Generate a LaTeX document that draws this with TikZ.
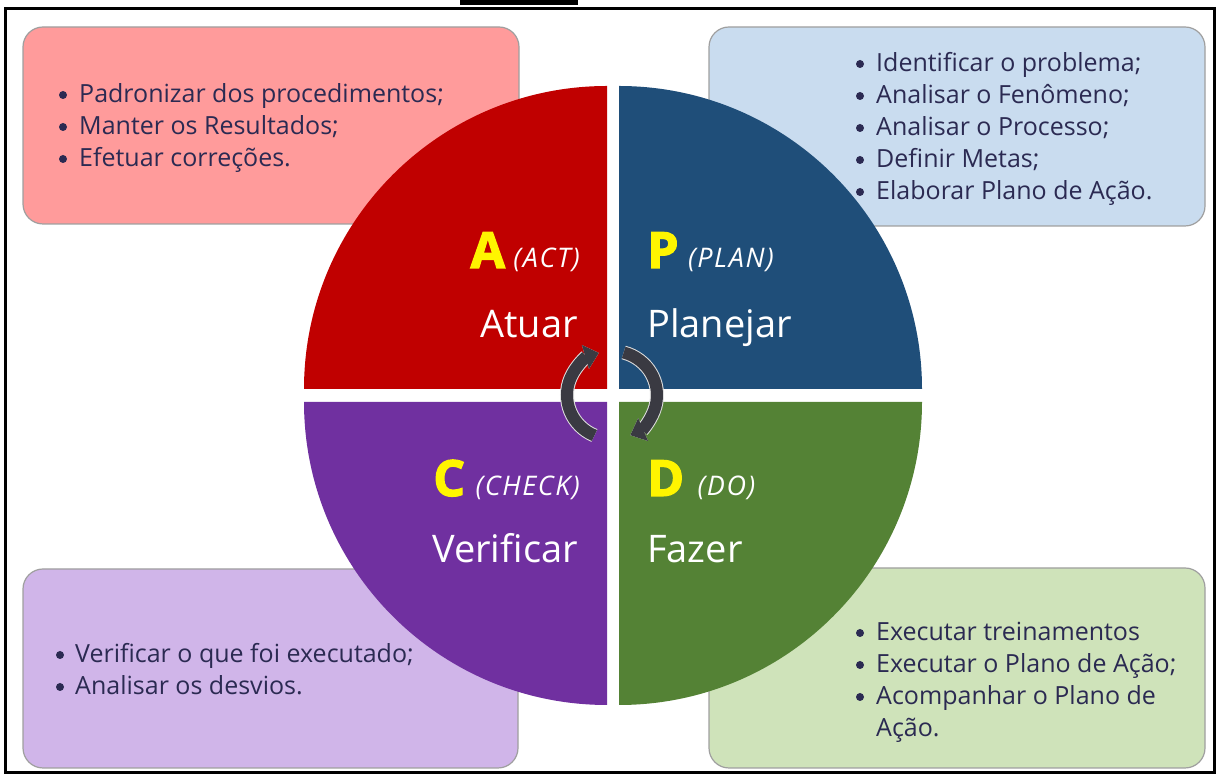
\documentclass[tikz,border=0pt]{standalone}
\usepackage{fontspec}
\setmainfont{Open Sans}
\newfontfamily\heavyfont{Open Sans}[BoldFeatures={FakeBold=2.5}]
\newfontfamily\tagfont{Open Sans}[LetterSpace=6]
\usetikzlibrary{arrows.meta}
\definecolor{actred}{HTML}{C00000}
\definecolor{planblue}{HTML}{1F4E79}
\definecolor{checkpurple}{HTML}{7030A0}
\definecolor{dogreen}{HTML}{548235}
\definecolor{actlight}{HTML}{FF9B9B}
\definecolor{planlight}{HTML}{C9DCEF}
\definecolor{checklight}{HTML}{D0B5E9}
\definecolor{dolight}{HTML}{CFE3BA}
\definecolor{itemtext}{HTML}{2B2A52}
\definecolor{lettery}{HTML}{FFF500}
\definecolor{arrowgray}{HTML}{3A3A42}

\begin{document}
\begin{tikzpicture}
  [x=1pt,y=1pt,every node/.style={inner sep=0pt},
   item/.style={anchor=base west,text=itemtext,font=\fontsize{25}{32}\selectfont},
   bulletdot/.style={fill=itemtext},
   infobox/.style={draw=gray!75,line width=1.2pt,rounded corners=20pt},
   letter/.style={text=lettery,font=\fontsize{50}{60}\heavyfont\bfseries},
   tag/.style={text=white,font=\fontsize{27}{30}\tagfont\itshape},
   word/.style={text=white,font=\fontsize{38}{46}\selectfont},
   turnarrow/.style={draw=arrowgray,line width=12pt,-{Triangle[width=24pt,length=14pt]},
     preaction={draw=white!75!gray,line width=14pt}}]
  \useasboundingbox (0,0) rectangle (1219,776);
  \fill (460,771) rectangle (578,776);
  \draw[line width=3pt] (5,3) rectangle (1214,767);

  \filldraw[infobox,fill=actlight] (23,552) rectangle (519,749);
  \filldraw[infobox,fill=planlight] (709,550) rectangle (1205,749);
  \filldraw[infobox,fill=checklight] (23,8) rectangle (518,207);
  \filldraw[infobox,fill=dolight] (709,8) rectangle (1205,208);

  \foreach \c/\x/\y/\a in {actred/607/387/90,planblue/619/387/0,checkpurple/607/374/180,dogreen/619/374/270}
    \fill[\c] (\x,\y) -- ++(\a:303) arc[start angle=\a,end angle=\a+90,radius=303] -- cycle;

  \foreach \s [count=\i] in {Padronizar dos procedimentos;,Manter os Resultados;,Efetuar correções.}{
    \node[item] (a\i) at (79,{705-32*\i}) {\s};
    \fill[bulletdot] ([xshift=-16pt,yshift=8pt]a\i.base west) circle (4pt);}
  \foreach \s [count=\i] in {Identificar o problema;,Analisar o Fenômeno;,Analisar o Processo;,Definir Metas;,Elaborar Plano de Ação.}{
    \node[item] (p\i) at (876,{736-32*\i}) {\s};
    \fill[bulletdot] ([xshift=-16pt,yshift=8pt]p\i.base west) circle (4pt);}
  \foreach \s [count=\i] in {Verificar o que foi executado;,Analisar os desvios.}{
    \node[item] (c\i) at (75,{145-32*\i}) {\s};
    \fill[bulletdot] ([xshift=-15pt,yshift=8pt]c\i.base west) circle (4pt);}
  \foreach \s [count=\i] in {Executar treinamentos,Executar o Plano de Ação;,Acompanhar o Plano de}{
    \node[item] (d\i) at (876,{167-32*\i}) {\s};
    \fill[bulletdot] ([xshift=-16pt,yshift=8pt]d\i.base west) circle (4pt);}
  \node[item] (d4) at (876,39) {Ação.};

  \node[tag,anchor=base east] (actt) at (580,508) {(ACT)};
  \node[letter,anchor=base east] (actl) at ([xshift=-8pt]actt.base west) {A};
  \node[word,anchor=base east] (actw) at (578,438) {Atuar};
  \node[letter,anchor=base west] (planl) at (647,508) {P};
  \node[tag,anchor=base west] (plant) at ([xshift=9pt]planl.base east) {(PLAN)};
  \node[word,anchor=base west] (planw) at (647,438) {Planejar};
  \node[tag,anchor=base east] (checkt) at (580,280) {(CHECK)};
  \node[letter,anchor=base east] (checkl) at ([xshift=-10pt]checkt.base west) {C};
  \node[word,anchor=base east] (checkw) at (578,213) {Verificar};
  \node[letter,anchor=base west] (dol) at (647,280) {D};
  \node[tag,anchor=base west] (dot) at ([xshift=13pt]dol.base east) {(DO)};
  \node[word,anchor=base west] (dow) at (647,213) {Fazer};

  \coordinate (hub) at (612,381);
  \draw[turnarrow] (hub) ++(247:45 and 44) arc[start angle=247,end angle=107,x radius=45,y radius=44];
  \draw[turnarrow] (hub) ++(75:45 and 44) arc[start angle=75,end angle=-66,x radius=45,y radius=44];
\end{tikzpicture}
\end{document}
